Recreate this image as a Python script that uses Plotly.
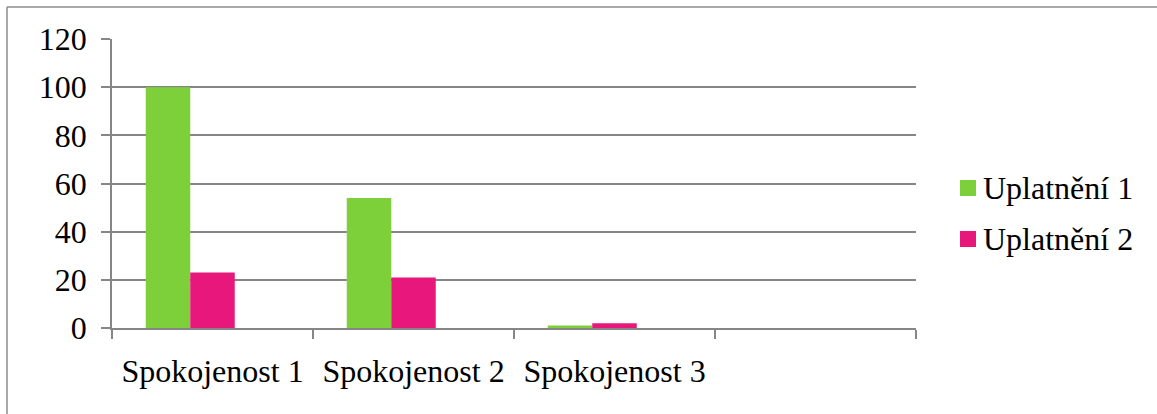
import plotly.graph_objects as go

# Chart data
categories = ["Spokojenost 1", "Spokojenost 2", "Spokojenost 3", " "]
series_names = ["Uplatnění 1", "Uplatnění 2"]
uplatneni_1 = [100, 54, 1, None]
uplatneni_2 = [23, 21, 2, None]
y_ticks = [0, 20, 40, 60, 80, 100, 120]

colors = ["#7ED03B", "#E8177B"]
grid_color = "#868686"
font_family = "Liberation Serif"

W, H = 1157, 414
L, R, T, B = 112, 241, 39, 86
plot_w = W - L - R
plot_h = H - T - B

# each category holds three bar slots; only the first two are used
bar_width = 0.2214
offsets = [-1.5 * bar_width, -0.5 * bar_width]

fig = go.Figure()
for name, vals, col, off in zip(series_names, [uplatneni_1, uplatneni_2], colors, offsets):
    fig.add_trace(go.Bar(x=categories, y=vals, name=name, width=bar_width, offset=off,
                         marker=dict(color=col, line=dict(width=0)), showlegend=False))

def px_x(p):
    return (p - L) / plot_w

def px_y(p):
    return (H - B - p) / plot_h

shapes = []
# outer frame (left and top edges visible)
shapes.append(dict(type="line", xref="paper", yref="paper", x0=px_x(7), x1=px_x(7), y0=px_y(7), y1=px_y(H + 5),
                   line=dict(color="#8c8c8c", width=1.5)))
shapes.append(dict(type="line", xref="paper", yref="paper", x0=px_x(7), x1=px_x(W + 5), y0=px_y(7), y1=px_y(7),
                   line=dict(color="#8c8c8c", width=1.5)))

# legend
annotations = []
legend_rows = [188, 239]
for name, col, yc in zip(series_names, colors, legend_rows):
    shapes.append(dict(type="rect", xref="paper", yref="paper", x0=px_x(960), x1=px_x(976),
                       y0=px_y(yc - 8), y1=px_y(yc + 8), fillcolor=col, line=dict(width=0)))
    annotations.append(dict(xref="paper", yref="paper", x=px_x(981), y=px_y(yc), text=name, showarrow=False,
                            xanchor="left", yanchor="middle", font=dict(family=font_family, size=32, color="black")))

fig.update_layout(
    width=W, height=H,
    margin=dict(l=L, r=R, t=T, b=B),
    paper_bgcolor="white", plot_bgcolor="white",
    barmode="group",
    font=dict(family=font_family, size=32, color="black"),
    shapes=shapes, annotations=annotations,
    xaxis=dict(
        type="category", categoryorder="array", categoryarray=categories,
        range=[-0.5, 3.5],
        showline=True, linecolor=grid_color, linewidth=1.5,
        ticks="outside", tickson="boundaries", ticklen=9, tickwidth=1.5, tickcolor=grid_color,
        showgrid=False, ticklabelstandoff=14,
        tickfont=dict(family=font_family, size=32, color="black"),
    ),
    yaxis=dict(
        range=[0, 120], tickvals=y_ticks,
        showline=True, linecolor=grid_color, linewidth=1.5,
        showgrid=True, gridcolor=grid_color, gridwidth=1.5,
        ticks="outside", ticklen=9, tickwidth=1.5, tickcolor=grid_color,
        zeroline=False, ticklabelstandoff=8,
        tickfont=dict(family=font_family, size=32, color="black"),
    ),
)

fig.write_html("out.html")
